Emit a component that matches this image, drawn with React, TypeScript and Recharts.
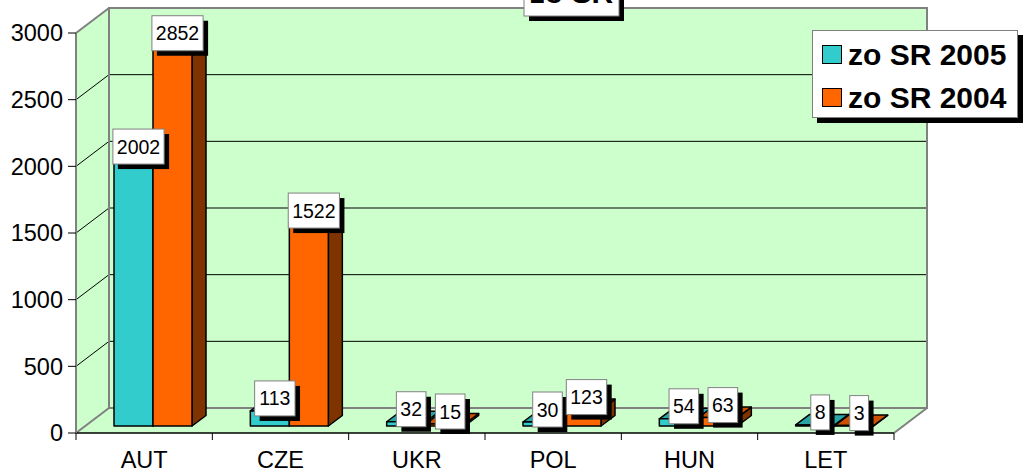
import React from 'react';
import { BarChart, Bar, XAxis, YAxis, ReferenceArea, LabelList, Legend } from 'recharts';

const categories = ['AUT', 'CZE', 'UKR', 'POL', 'HUN', 'LET'];
const values2005 = [2002, 113, 32, 30, 54, 8];
const values2004 = [2852, 1522, 15, 123, 63, 3];
const yTicks = [0, 500, 1000, 1500, 2000, 2500, 3000];
const seriesNames = ['zo SR 2005', 'zo SR 2004'];
const titleText = 'zo SR';

const data = categories.map((c, i) => ({ cat: c, s2005: values2005[i], s2004: values2004[i] }));

const FONT = '"Liberation Sans", Arial, sans-serif';
const WALL = '#CCFFCC';
const EDGE = '#808080';
// oblique projection offsets
const DX = 33, DY = -25; // full depth
const FX = 9, FY = -7; // bar front plane
const BX = 14, BY = -10.5; // bar depth

const COLORS = {
  s2005: { front: '#33CCCC', side: '#1F7A7A', top: '#2AA5A5' },
  s2004: { front: '#FF6600', side: '#7F3300', top: '#CC5200' },
};

function Walls(props: any) {
  const x = Number(props.x), y = Number(props.y), w = Number(props.width), h = Number(props.height);
  const b = y + h;
  const yMax = yTicks[yTicks.length - 1];
  const n = categories.length;
  return (
    <g>
      <polygon points={`${x},${y} ${x + DX},${y + DY} ${x + DX},${b + DY} ${x},${b}`} fill={WALL} />
      <polygon points={`${x},${b} ${x + DX},${b + DY} ${x + w + DX},${b + DY} ${x + w},${b}`} fill={WALL} />
      <rect x={x + DX} y={y + DY} width={w} height={h} fill={WALL} />
      {yTicks.filter((t) => t > 0 && t < yMax).map((t) => {
        const Y = y + h * (1 - t / yMax);
        return (
          <g key={t}>
            <line x1={x} y1={Y} x2={x + DX} y2={Y + DY} stroke="#000" strokeWidth={1} />
            <line x1={x + DX} y1={Y + DY} x2={x + w + DX} y2={Y + DY} stroke="#000" strokeWidth={1} />
          </g>
        );
      })}
      <rect x={x + DX} y={y + DY} width={w} height={h} fill="none" stroke={EDGE} strokeWidth={2} />
      <line x1={x} y1={y} x2={x + DX} y2={y + DY} stroke={EDGE} strokeWidth={2} />
      <line x1={x} y1={b} x2={x + DX} y2={b + DY} stroke={EDGE} strokeWidth={2} />
      <line x1={x + w} y1={b} x2={x + w + DX} y2={b + DY} stroke={EDGE} strokeWidth={2} />
      {Array.from({ length: n + 1 }, (_, i) => {
        const X = x + (w * i) / n;
        return <line key={i} x1={X} y1={b} x2={X} y2={b + 7} stroke="#000" strokeWidth={1} />;
      })}
    </g>
  );
}

function Bar3D(props: any) {
  const { c } = props;
  const x = Number(props.x), y = Number(props.y), w = Number(props.width), h = Number(props.height);
  if (!isFinite(x) || !isFinite(y)) return null;
  const fx = x + FX, fy = y + FY;
  return (
    <g stroke="#000" strokeWidth={1.5} strokeLinejoin="round">
      <polygon
        points={`${fx + w},${fy} ${fx + w + BX},${fy + BY} ${fx + w + BX},${fy + h + BY} ${fx + w},${fy + h}`}
        fill={c.side}
      />
      <polygon
        points={`${fx},${fy} ${fx + w},${fy} ${fx + w + BX},${fy + BY} ${fx + BX},${fy + BY}`}
        fill={c.top}
      />
      <rect x={fx} y={fy} width={w} height={Math.max(h, 0)} fill={c.front} />
    </g>
  );
}

function ValueBox(props: any) {
  const x = Number(props.x), y = Number(props.y), w = Number(props.width);
  const v = props.value;
  if (!isFinite(x) || !isFinite(y)) return null;
  const s = String(v);
  const bw = s.length * 10.8 + 8;
  const bh = 35;
  const cx = x + w / 2 + FX + 5;
  const cy = y + FY - 12.5;
  return (
    <g>
      <rect x={cx - bw / 2 + 5} y={cy - bh / 2 + 5} width={bw} height={bh} fill="#000" />
      <rect x={cx - bw / 2} y={cy - bh / 2} width={bw} height={bh} fill="#fff" stroke={EDGE} strokeWidth={1} />
      <text x={cx} y={cy + 7} textAnchor="middle" fontSize={19.5} fontFamily={FONT} fill="#000">
        {s}
      </text>
    </g>
  );
}

function LegendBox(props: any) {
  const payload = [...(props.payload || [])].sort(
    (a: any, b: any) => seriesNames.indexOf(a.value) - seriesNames.indexOf(b.value)
  );
  return (
    <div
      style={{
        boxSizing: 'border-box',
        width: 206,
        height: 88,
        border: `1px solid ${EDGE}`,
        background: '#fff',
        boxShadow: '5px 5px 0 #000',
        paddingTop: 2,
        fontFamily: FONT,
      }}
    >
      {payload.map((p: any, i: number) => (
        <div key={i} style={{ display: 'flex', alignItems: 'center', height: 43 }}>
          <div
            style={{
              boxSizing: 'border-box',
              marginLeft: 9,
              width: 20,
              height: 19,
              border: '1.5px solid #000',
              background: p.color,
            }}
          />
          <span style={{ marginLeft: 6, fontSize: 30, fontWeight: 'bold', color: '#000', lineHeight: '43px' }}>
            {p.value}
          </span>
        </div>
      ))}
    </div>
  );
}

export default function App() {
  return (
    <div style={{ position: 'relative', width: 1024, height: 475, background: '#fff', overflow: 'hidden' }}>
      <style>{'body{margin:0}'}</style>
      <BarChart
        width={1024}
        height={475}
        data={data}
        margin={{ top: 33, right: 130, bottom: 0, left: 0 }}
        barSize={39}
        barGap={0}
      >
        <ReferenceArea y1={0} y2={3000} shape={(p: any) => <Walls {...p} />} isFront={false} ifOverflow="visible" />
        <XAxis
          dataKey="cat"
          height={42}
          axisLine={{ stroke: '#000', strokeWidth: 1.5 }}
          tickLine={false}
          tickSize={0}
          tickMargin={18}
          interval={0}
          tick={{ fontSize: 23.5, fill: '#000', fontFamily: FONT }}
        />
        <YAxis
          width={76}
          domain={[0, 3000]}
          ticks={yTicks}
          interval={0}
          axisLine={{ stroke: EDGE, strokeWidth: 2 }}
          tickLine={{ stroke: '#000' }}
          tickSize={8}
          tickMargin={5}
          tick={{ fontSize: 23.5, fill: '#000', fontFamily: FONT }}
        />
        <Legend
          layout="vertical"
          align="center"
          verticalAlign="middle"
          itemSorter={null as any}
          wrapperStyle={{ position: 'absolute', left: 812, top: 30, width: 206, height: 88, margin: 0 }}
          content={(p: any) => <LegendBox {...p} />}
        />
        <Bar
          dataKey="s2005"
          name={seriesNames[0]}
          fill={COLORS.s2005.front}
          isAnimationActive={false}
          shape={(p: any) => <Bar3D {...p} c={COLORS.s2005} />}
        >
          <LabelList dataKey="s2005" content={(p: any) => <ValueBox {...p} />} />
        </Bar>
        <Bar
          dataKey="s2004"
          name={seriesNames[1]}
          fill={COLORS.s2004.front}
          isAnimationActive={false}
          shape={(p: any) => <Bar3D {...p} c={COLORS.s2004} />}
        >
          <LabelList dataKey="s2004" content={(p: any) => <ValueBox {...p} />} />
        </Bar>
      </BarChart>
      <svg
        width={1024}
        height={475}
        style={{ position: 'absolute', left: 0, top: 0, pointerEvents: 'none' }}
      >
        <rect x={529} y={-35} width={95} height={56} fill="#000" />
        <rect x={524} y={-40} width={95} height={56} fill="#fff" stroke={EDGE} strokeWidth={1} />
        <text x={571.5} y={3} textAnchor="middle" fontSize={30} fontWeight="bold" fontFamily={FONT} fill="#000">
          {titleText}
        </text>
      </svg>
    </div>
  );
}
